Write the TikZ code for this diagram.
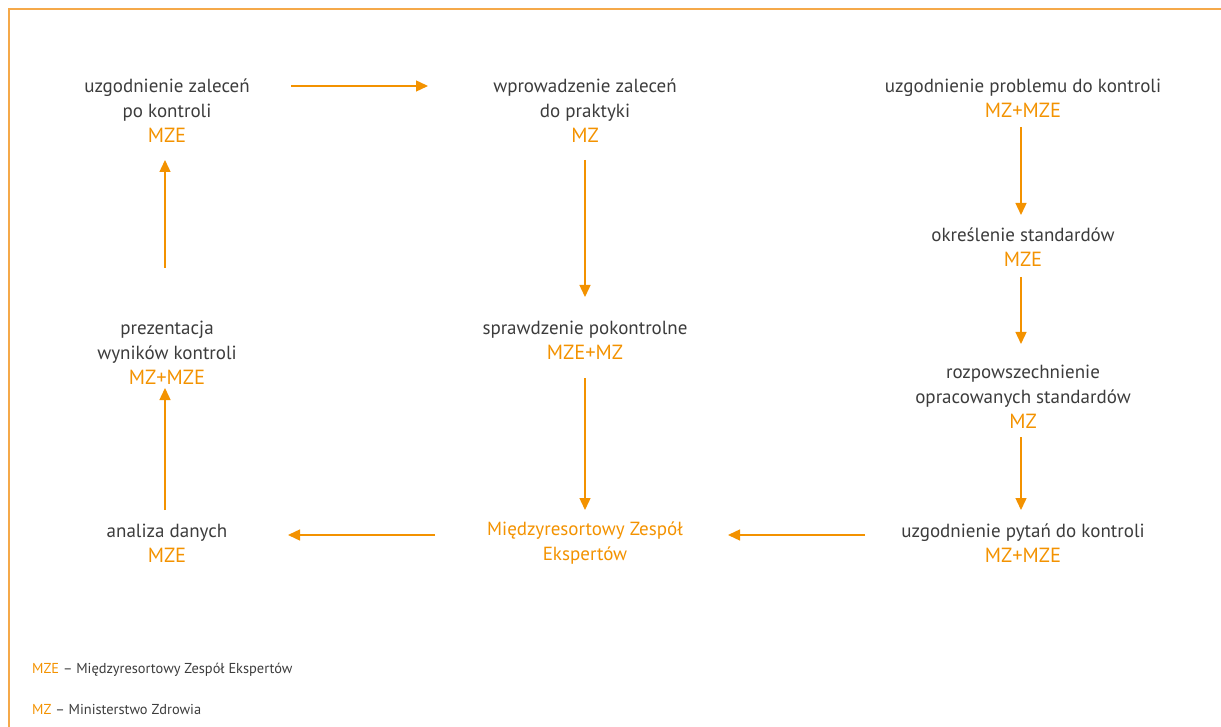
\documentclass[tikz,border=0pt]{standalone}
\usepackage{fontspec}
\setmainfont{PT Sans}
\usetikzlibrary{arrows.meta}
\definecolor{txt}{HTML}{3C3C3C}
\definecolor{org}{HTML}{F39200}
\definecolor{frame}{HTML}{F5A94A}
\tikzset{
  box/.style={inner sep=0pt, align=center, text=txt, font=\fontsize{19}{25}\selectfont},
  obox/.style={box, text=org},
  arr/.style={draw=org, line width=1.4pt, -{Triangle[length=12pt,width=11pt]}},
  leg/.style={inner sep=0pt, anchor=base west, text=txt, font=\fontsize{14.4}{17}\selectfont}
}
\newcommand{\og}[1]{\textcolor{org}{#1}}
\newcommand{\ogl}[1]{{\fontsize{20.5}{25}\selectfont\textcolor{org}{#1}}}
\begin{document}
\begin{tikzpicture}[x=1pt,y=-1pt]
\useasboundingbox (0,0) rectangle (1221,727);
\draw[frame, line width=2pt] (1221,9) -- (9,9) -- (9,727);

\node[box] (A) at (167,110.5) {uzgodnienie zaleceń\\po kontroli\\\ogl{MZE}};
\node[box] (B) at (585,110.5) {wprowadzenie zaleceń\\do praktyki\\\ogl{MZ}};
\node[box] (C) at (1023,98.5) {uzgodnienie problemu do kontroli\\\ogl{MZ+MZE}};
\node[box] (D) at (1023,247.5) {określenie standardów\\\ogl{MZE}};
\node[box] (E) at (1023,396.5) {rozpowszechnienie\\opracowanych standardów\\\ogl{MZ}};
\node[box] (F) at (1023,543.5) {uzgodnienie pytań do kontroli\\\ogl{MZ+MZE}};
\node[obox] (G) at (585,543.5) {Międzyresortowy Zespół\\Ekspertów};
\node[box] (H) at (167,543.5) {analiza danych\\\ogl{MZE}};
\node[box] (I) at (167,353) {prezentacja\\wyników kontroli\\\ogl{MZ+MZE}};
\node[box] (J) at (585,340.5) {sprawdzenie pokontrolne\\\ogl{MZE+MZ}};

\draw[arr] ([shift={(124,-24.5)}]A.center) -- ([shift={(-157,-24.5)}]B.center);
\draw[arr] ([shift={(0,49.5)}]B.center) -- ([shift={(0,-43.5)}]J.center);
\draw[arr] ([shift={(0,37.5)}]J.center) -- ([shift={(0,-33.5)}]G.center);
\draw[arr] ([shift={(-2,28.5)}]C.center) -- ([shift={(-2,-32.5)}]D.center);
\draw[arr] ([shift={(-2,29.5)}]D.center) -- ([shift={(-2,-52.5)}]E.center);
\draw[arr] ([shift={(-2,40.5)}]E.center) -- ([shift={(-2,-33.5)}]F.center);
\draw[arr] ([shift={(-158,-8.5)}]F.center) -- ([shift={(143,-8.5)}]G.center);
\draw[arr] ([shift={(-150,-8.5)}]G.center) -- ([shift={(121,-8.5)}]H.center);
\draw[arr] ([shift={(-2,-33.5)}]H.center) -- ([shift={(-2,35)}]I.center);
\draw[arr] ([shift={(-2,-85)}]I.center) -- ([shift={(-2,49.5)}]A.center);

\node[leg] (L1) at (32,673.5) {\og{MZE} – Międzyresortowy Zespół Ekspertów};
\node[leg] (L2) at (32,714.5) {\og{MZ} – Ministerstwo Zdrowia};
\end{tikzpicture}
\end{document}
